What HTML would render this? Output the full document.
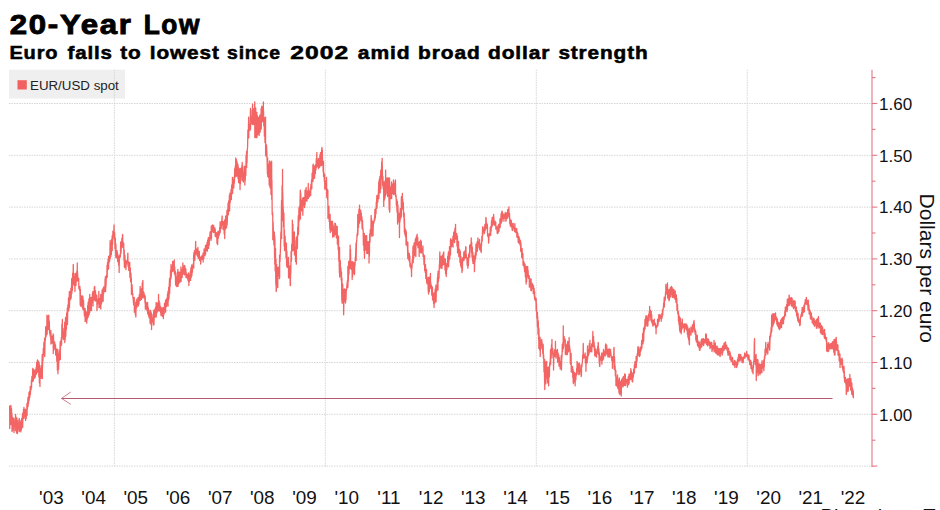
<!DOCTYPE html>
<html><head><meta charset="utf-8"><style>
html,body{margin:0;padding:0;background:#fff;width:940px;height:510px;overflow:hidden}
svg{display:block;font-family:"Liberation Sans",sans-serif}
</style></head><body>
<svg width="940" height="510" viewBox="0 0 940 510">
<g font-size="27.0" font-weight="bold" fill="#000" stroke="#000" stroke-width="0.9" letter-spacing="1.5"><text transform="translate(9.66,34.4) scale(1.155,1)">20-Year</text><text transform="translate(143.81,34.4) scale(0.976,1)">Low</text></g>
<g font-size="19.0" font-weight="bold" fill="#000" stroke="#000" stroke-width="0.55" letter-spacing="0.8"><text transform="translate(9.39,58.6) scale(1.055,1)">Euro</text><text transform="translate(67.49,58.6) scale(1.079,1)">falls</text><text transform="translate(120.17,58.6) scale(1.094,1)">to</text><text transform="translate(149.79,58.6) scale(1.094,1)">lowest</text><text transform="translate(227.04,58.6) scale(1.022,1)">since</text><text transform="translate(290.30,58.6) scale(1.297,1)">2002</text><text transform="translate(357.81,58.6) scale(1.108,1)">amid</text><text transform="translate(418.12,58.6) scale(1.101,1)">broad</text><text transform="translate(487.95,58.6) scale(1.104,1)">dollar</text><text transform="translate(558.38,58.6) scale(1.095,1)">strength</text></g>
<rect x="9" y="69.7" width="116" height="28.8" fill="#efefef"/>
<g stroke="#d6d6d6" stroke-width="1" stroke-dasharray="1.5,1"><line x1="9" y1="103.50" x2="872.0" y2="103.50"/><line x1="9" y1="155.30" x2="872.0" y2="155.30"/><line x1="9" y1="207.10" x2="872.0" y2="207.10"/><line x1="9" y1="258.90" x2="872.0" y2="258.90"/><line x1="9" y1="310.70" x2="872.0" y2="310.70"/><line x1="9" y1="362.50" x2="872.0" y2="362.50"/><line x1="9" y1="414.30" x2="872.0" y2="414.30"/><line x1="9" y1="466.10" x2="872.0" y2="466.10"/><line x1="114.38" y1="69.7" x2="114.38" y2="466.40"/><line x1="325.33" y1="69.7" x2="325.33" y2="466.40"/><line x1="536.28" y1="69.7" x2="536.28" y2="466.40"/><line x1="747.23" y1="69.7" x2="747.23" y2="466.40"/></g>
<rect x="17.5" y="80.2" width="9.3" height="9.3" fill="#f26161"/>
<text transform="translate(30,90.3) scale(1.025,1)" font-size="13" fill="#222">EUR/USD spot</text>
<g stroke="#e47684" stroke-width="1.1"><line x1="872.0" y1="69.7" x2="872.0" y2="466.90"/><line x1="872.0" y1="77.60" x2="875.5" y2="77.60"/><line x1="872.0" y1="103.50" x2="877.3" y2="103.50"/><line x1="872.0" y1="129.40" x2="875.5" y2="129.40"/><line x1="872.0" y1="155.30" x2="877.3" y2="155.30"/><line x1="872.0" y1="181.20" x2="875.5" y2="181.20"/><line x1="872.0" y1="207.10" x2="877.3" y2="207.10"/><line x1="872.0" y1="233.00" x2="875.5" y2="233.00"/><line x1="872.0" y1="258.90" x2="877.3" y2="258.90"/><line x1="872.0" y1="284.80" x2="875.5" y2="284.80"/><line x1="872.0" y1="310.70" x2="877.3" y2="310.70"/><line x1="872.0" y1="336.60" x2="875.5" y2="336.60"/><line x1="872.0" y1="362.50" x2="877.3" y2="362.50"/><line x1="872.0" y1="388.40" x2="875.5" y2="388.40"/><line x1="872.0" y1="414.30" x2="877.3" y2="414.30"/><line x1="872.0" y1="440.20" x2="875.5" y2="440.20"/><line x1="872.0" y1="466.10" x2="877.3" y2="466.10"/></g>
<g font-size="17" fill="#111"><text x="879" y="109.7">1.60</text><text x="879" y="161.5">1.50</text><text x="879" y="213.3">1.40</text><text x="879" y="265.1">1.30</text><text x="879" y="316.9">1.20</text><text x="879" y="368.7">1.10</text><text x="879" y="420.5">1.00</text></g>
<g font-size="17.5" fill="#111"><text transform="translate(51.4,503.9) scale(1.08,1)" text-anchor="middle">'03</text><text transform="translate(93.6,503.9) scale(1.08,1)" text-anchor="middle">'04</text><text transform="translate(135.8,503.9) scale(1.08,1)" text-anchor="middle">'05</text><text transform="translate(178.0,503.9) scale(1.08,1)" text-anchor="middle">'06</text><text transform="translate(220.2,503.9) scale(1.08,1)" text-anchor="middle">'07</text><text transform="translate(262.3,503.9) scale(1.08,1)" text-anchor="middle">'08</text><text transform="translate(304.5,503.9) scale(1.08,1)" text-anchor="middle">'09</text><text transform="translate(346.7,503.9) scale(1.08,1)" text-anchor="middle">'10</text><text transform="translate(388.9,503.9) scale(1.08,1)" text-anchor="middle">'11</text><text transform="translate(431.1,503.9) scale(1.08,1)" text-anchor="middle">'12</text><text transform="translate(473.3,503.9) scale(1.08,1)" text-anchor="middle">'13</text><text transform="translate(515.5,503.9) scale(1.08,1)" text-anchor="middle">'14</text><text transform="translate(557.7,503.9) scale(1.08,1)" text-anchor="middle">'15</text><text transform="translate(599.9,503.9) scale(1.08,1)" text-anchor="middle">'16</text><text transform="translate(642.1,503.9) scale(1.08,1)" text-anchor="middle">'17</text><text transform="translate(684.2,503.9) scale(1.08,1)" text-anchor="middle">'18</text><text transform="translate(726.4,503.9) scale(1.08,1)" text-anchor="middle">'19</text><text transform="translate(768.6,503.9) scale(1.08,1)" text-anchor="middle">'20</text><text transform="translate(810.8,503.9) scale(1.08,1)" text-anchor="middle">'21</text><text transform="translate(853.0,503.9) scale(1.08,1)" text-anchor="middle">'22</text></g>
<text transform="translate(919.8,193.6) rotate(90)" font-size="21" fill="#111">Dollars per euro</text>
<g fill="none"><line x1="61.5" y1="398.4" x2="832.5" y2="398.4" stroke="#b45c6e" stroke-width="1.05"/><polyline points="70.8,392 61.5,398.4 70.8,404.4" stroke="#c86a7c" stroke-width="0.85"/></g>
<polyline fill="none" stroke="#f36464" stroke-width="1.3" stroke-linejoin="round" points="9.65,405.5 9.70,413.8 9.75,428.5 10.00,415.6 10.30,415.3 10.60,423.9 10.90,408.1 10.95,405.5 11.05,424.5 11.20,416.0 11.50,408.3 11.80,421.2 11.95,413.5 12.05,431.5 12.10,422.2 12.40,427.4 12.70,417.4 13.00,430.2 13.30,418.2 13.60,429.0 13.90,422.0 13.95,418.5 14.05,432.5 14.20,428.0 14.50,426.2 14.80,424.4 15.10,421.2 15.40,421.2 15.55,414.5 15.65,430.5 15.70,415.9 16.00,430.7 16.30,421.9 16.60,433.0 16.90,417.9 17.20,429.5 17.35,420.5 17.45,433.5 17.50,423.5 17.80,425.9 18.10,424.5 18.40,428.9 18.70,422.8 18.95,419.5 19.00,430.6 19.05,431.5 19.30,418.5 19.60,430.9 19.90,424.3 20.20,430.6 20.50,421.9 20.80,431.9 20.95,420.5 21.05,430.5 21.10,425.2 21.40,429.8 21.70,418.4 22.00,421.9 22.30,418.4 22.55,413.5 22.60,420.4 22.65,427.5 22.90,417.0 23.20,418.1 23.50,409.1 23.80,416.5 23.95,407.5 24.05,418.5 24.10,410.5 24.40,413.3 24.70,410.4 25.00,416.4 25.30,409.1 25.55,410.5 25.60,418.9 25.65,420.5 25.90,410.2 26.20,418.4 26.50,411.5 26.80,414.3 26.95,403.5 27.05,415.5 27.10,410.0 27.40,408.5 27.70,402.5 27.95,397.5 28.00,403.4 28.05,406.5 28.30,399.3 28.60,403.2 28.90,394.5 28.95,392.5 29.05,400.5 29.20,399.4 29.50,391.5 29.80,397.5 30.10,392.3 30.25,386.5 30.35,394.5 30.40,393.9 30.70,387.3 31.00,389.9 31.30,385.3 31.45,380.5 31.55,387.5 31.60,384.3 31.90,376.4 32.20,379.1 32.50,378.0 32.75,368.5 32.80,374.3 32.85,381.5 33.10,372.5 33.40,380.4 33.70,369.3 34.00,373.6 34.30,372.1 34.60,378.2 34.90,374.0 35.15,370.1 35.20,374.6 35.25,377.0 35.50,371.0 35.80,374.6 36.10,367.7 36.40,374.0 36.70,362.4 37.00,367.3 37.30,363.5 37.45,359.9 37.55,372.2 37.60,369.1 37.90,362.7 38.20,369.8 38.50,361.2 38.80,376.8 39.10,362.7 39.40,383.1 39.70,377.0 39.85,365.5 39.95,386.4 40.00,378.0 40.30,368.5 40.60,377.7 40.90,372.6 41.20,378.2 41.50,365.9 41.80,370.8 42.10,359.7 42.25,354.5 42.35,378.5 42.40,370.6 42.70,362.2 43.00,359.6 43.30,348.4 43.60,354.4 43.90,342.1 44.20,351.8 44.50,348.0 44.55,338.5 44.65,356.5 44.80,354.3 45.10,337.6 45.40,340.2 45.70,326.7 46.00,336.9 46.30,330.9 46.60,332.8 46.90,324.4 46.95,315.2 47.05,334.5 47.20,332.3 47.50,316.3 47.80,329.3 48.10,315.9 48.40,328.2 48.70,323.7 48.75,315.2 48.85,329.5 49.00,326.4 49.30,321.0 49.60,333.6 49.90,331.3 50.20,336.1 50.50,335.8 50.80,339.6 50.85,330.5 50.95,344.0 51.10,334.7 51.40,338.0 51.70,338.5 52.00,343.2 52.30,336.4 52.60,341.5 52.90,337.5 53.15,334.0 53.20,342.6 53.25,353.5 53.50,334.9 53.80,350.1 54.10,342.6 54.40,345.7 54.70,342.0 55.00,348.7 55.30,347.9 55.55,345.0 55.60,350.9 55.65,355.0 55.90,349.8 56.20,351.7 56.50,349.1 56.80,361.3 57.10,349.3 57.40,370.3 57.70,351.1 57.85,349.5 57.95,373.8 58.00,359.9 58.30,359.9 58.60,369.2 58.90,353.7 59.20,360.6 59.50,351.0 59.80,355.1 60.10,344.8 60.25,341.5 60.35,359.5 60.40,347.9 60.70,341.8 61.00,345.7 61.30,337.6 61.60,344.9 61.90,324.2 62.20,335.8 62.35,319.5 62.45,337.5 62.50,327.8 62.80,329.4 63.10,328.4 63.40,339.5 63.70,331.8 64.00,331.7 64.30,332.4 64.60,336.5 64.65,322.5 64.75,342.5 64.90,332.4 65.20,339.9 65.50,317.4 65.80,336.2 66.10,317.1 66.40,329.5 66.70,313.0 67.00,321.9 67.30,308.2 67.35,308.5 67.45,324.5 67.60,317.5 67.90,304.8 68.20,311.4 68.50,298.0 68.80,310.4 69.10,303.1 69.35,291.3 69.40,302.7 69.45,307.5 69.70,297.5 70.00,298.0 70.30,291.9 70.60,299.7 70.90,288.2 71.20,297.9 71.50,287.3 71.75,278.5 71.80,284.7 71.85,293.5 72.10,283.9 72.40,290.4 72.70,272.9 73.00,283.2 73.25,264.5 73.30,264.7 73.35,284.0 73.60,278.5 73.90,277.0 74.20,285.6 74.50,281.0 74.80,282.7 74.85,274.0 74.95,291.5 75.10,273.3 75.40,281.3 75.70,279.7 76.00,285.4 76.30,273.2 76.60,277.3 76.90,270.9 77.20,281.1 77.25,263.0 77.35,280.5 77.50,271.3 77.80,277.8 78.10,277.9 78.40,280.6 78.70,278.7 78.75,278.5 78.85,288.5 79.00,286.2 79.30,288.3 79.60,290.1 79.90,286.4 80.20,304.8 80.35,289.5 80.45,306.0 80.50,295.9 80.80,305.5 81.10,296.3 81.40,298.7 81.70,295.8 82.00,306.9 82.30,298.0 82.60,304.0 82.65,296.0 82.75,309.1 82.90,296.7 83.20,309.4 83.50,300.1 83.80,309.9 84.10,309.8 84.40,315.6 84.70,308.6 85.00,317.2 85.05,308.5 85.15,321.5 85.30,309.8 85.60,321.2 85.90,312.3 86.20,320.3 86.50,311.9 86.65,313.2 86.75,323.2 86.80,318.3 87.10,313.8 87.40,318.9 87.70,305.4 88.00,311.5 88.15,302.3 88.25,317.0 88.30,301.9 88.60,315.7 88.90,299.0 89.20,314.4 89.50,305.4 89.75,294.5 89.80,310.2 89.85,312.2 90.10,297.3 90.40,303.6 90.70,301.5 91.00,310.3 91.30,300.2 91.35,297.5 91.45,310.5 91.60,302.9 91.90,297.9 92.20,302.5 92.50,292.9 92.80,300.4 92.95,291.3 93.05,306.0 93.10,297.7 93.40,297.5 93.70,294.9 94.00,300.1 94.30,287.2 94.60,296.6 94.75,286.5 94.85,299.5 94.90,292.8 95.20,301.1 95.50,290.9 95.80,300.8 96.10,298.5 96.40,300.2 96.70,295.1 96.85,296.0 96.95,310.5 97.00,309.7 97.30,302.1 97.60,303.9 97.90,300.1 98.20,299.0 98.50,301.3 98.80,299.5 98.85,291.3 98.95,307.5 99.10,299.0 99.40,304.9 99.70,298.3 100.00,307.7 100.30,300.4 100.60,302.3 100.75,294.5 100.85,309.1 100.90,300.3 101.20,304.5 101.50,295.1 101.80,302.8 102.10,289.9 102.40,296.8 102.70,293.1 103.00,299.3 103.05,288.1 103.15,301.3 103.30,291.1 103.60,293.6 103.90,286.7 104.20,289.8 104.50,289.3 104.80,291.7 105.10,278.6 105.40,285.2 105.45,276.5 105.55,291.5 105.70,284.1 106.00,286.9 106.30,276.6 106.60,275.5 106.90,273.8 107.05,265.5 107.15,277.5 107.20,277.1 107.50,262.6 107.80,265.9 108.10,259.2 108.40,269.3 108.55,256.5 108.65,268.3 108.70,259.3 109.00,262.9 109.30,255.9 109.60,261.4 109.90,252.9 110.15,240.5 110.20,257.1 110.25,258.5 110.50,247.8 110.80,256.6 111.10,242.5 111.40,254.6 111.70,239.1 112.00,249.3 112.15,235.9 112.25,250.5 112.30,241.4 112.60,244.6 112.90,231.1 113.20,235.4 113.50,235.7 113.80,232.5 114.05,224.9 114.10,225.9 114.15,238.0 114.40,239.1 114.70,232.7 115.00,248.7 115.30,237.9 115.60,252.2 115.65,243.5 115.75,256.9 115.90,244.4 116.20,257.9 116.50,253.4 116.80,257.1 117.10,250.6 117.40,257.7 117.55,253.1 117.65,261.5 117.70,253.9 118.00,261.6 118.30,255.8 118.60,265.1 118.90,261.3 119.05,256.3 119.15,272.5 119.20,266.7 119.50,255.6 119.80,257.6 120.10,254.4 120.40,256.8 120.65,242.2 120.70,242.0 120.75,253.5 121.00,252.9 121.30,247.0 121.60,243.8 121.90,238.2 122.20,241.4 122.50,235.7 122.65,234.3 122.75,247.5 122.80,245.1 123.10,241.9 123.40,247.6 123.70,243.2 124.00,260.6 124.25,250.0 124.30,255.5 124.35,266.3 124.60,267.5 124.90,255.1 125.20,265.4 125.50,263.8 125.80,265.3 125.85,261.0 125.95,269.5 126.10,264.6 126.40,264.2 126.70,261.8 127.00,261.6 127.30,259.6 127.60,260.7 127.85,253.1 127.90,254.4 127.95,264.7 128.20,266.5 128.50,261.7 128.80,270.4 129.10,266.7 129.40,269.9 129.70,264.1 129.75,262.5 129.85,277.2 130.00,270.8 130.30,267.8 130.60,281.6 130.90,273.0 131.20,282.8 131.35,278.2 131.45,294.5 131.50,284.1 131.80,289.2 132.10,284.7 132.40,293.1 132.70,293.2 133.00,298.6 133.30,299.7 133.60,304.6 133.90,297.9 134.20,305.7 134.25,297.5 134.35,312.2 134.50,305.5 134.80,311.6 135.10,305.7 135.40,314.9 135.70,306.4 135.75,302.3 135.85,317.0 136.00,309.6 136.30,300.6 136.60,308.0 136.90,298.9 137.20,304.0 137.50,301.2 137.80,306.2 138.10,301.3 138.15,297.5 138.25,306.0 138.40,303.0 138.70,298.8 139.00,304.0 139.30,294.7 139.60,298.0 139.90,295.2 140.15,286.5 140.20,300.4 140.25,299.5 140.50,288.9 140.80,294.2 141.10,288.8 141.40,299.4 141.70,288.3 142.00,297.4 142.30,282.6 142.60,289.1 142.85,280.3 142.90,281.4 142.95,298.1 143.20,295.4 143.50,291.6 143.80,295.6 144.10,292.8 144.40,297.8 144.70,295.5 145.00,303.0 145.25,296.0 145.30,302.4 145.35,309.1 145.60,304.7 145.90,302.2 146.20,308.6 146.50,303.0 146.80,310.0 147.10,306.1 147.40,311.4 147.55,302.3 147.65,313.8 147.70,305.3 148.00,310.2 148.30,307.7 148.60,316.0 148.90,312.6 149.20,317.9 149.50,315.0 149.80,316.4 149.95,310.1 150.05,323.2 150.10,313.3 150.40,319.1 150.70,310.6 151.00,324.5 151.30,321.0 151.45,313.2 151.55,329.5 151.60,324.1 151.90,317.6 152.20,322.1 152.50,318.0 152.80,321.9 153.10,314.3 153.40,325.1 153.70,312.1 153.85,310.1 153.95,324.8 154.00,322.7 154.30,311.9 154.60,313.4 154.90,309.1 155.20,317.0 155.50,307.2 155.80,313.6 156.10,311.2 156.15,302.3 156.25,317.0 156.40,308.4 156.70,303.3 157.00,312.9 157.30,306.6 157.60,308.6 157.90,302.6 158.20,311.0 158.50,302.5 158.55,294.5 158.65,309.1 158.80,307.8 159.10,300.6 159.40,310.8 159.70,302.8 160.00,307.6 160.30,308.7 160.60,312.6 160.85,307.0 160.90,310.8 160.95,315.5 161.20,314.1 161.50,308.6 161.80,314.1 162.10,307.9 162.40,316.4 162.70,312.0 163.00,313.7 163.25,308.5 163.30,307.6 163.35,318.5 163.60,313.3 163.90,311.5 164.20,313.8 164.50,303.5 164.80,310.1 165.10,303.0 165.40,308.6 165.55,300.5 165.65,312.2 165.70,302.1 166.00,306.8 166.30,298.9 166.60,306.5 166.90,299.2 167.20,303.2 167.50,293.9 167.80,298.0 167.95,291.3 168.05,306.0 168.10,292.2 168.40,301.0 168.70,287.1 169.00,298.8 169.30,284.1 169.55,278.5 169.60,286.6 169.65,293.5 169.90,281.7 170.20,286.4 170.50,270.1 170.80,278.9 171.05,264.5 171.10,270.4 171.15,277.5 171.40,273.3 171.70,270.1 172.00,269.9 172.30,265.9 172.60,267.3 172.65,261.5 172.75,271.5 172.90,265.8 173.20,270.5 173.50,261.6 173.80,270.0 174.10,263.3 174.25,259.9 174.35,273.0 174.40,273.8 174.70,267.0 175.00,275.0 175.30,271.2 175.60,284.2 175.75,277.2 175.85,285.5 175.90,276.7 176.20,284.7 176.50,281.1 176.80,286.6 177.10,272.8 177.40,285.1 177.70,273.9 177.85,269.3 177.95,285.5 178.00,286.5 178.30,273.5 178.60,284.1 178.90,272.2 179.20,277.8 179.50,272.2 179.75,272.5 179.80,279.1 179.85,282.5 180.10,273.2 180.40,279.6 180.70,274.9 180.95,267.0 181.00,281.1 181.05,281.5 181.30,274.2 181.60,271.8 181.90,270.0 182.20,277.5 182.50,268.2 182.80,270.6 182.85,263.0 182.95,273.8 183.10,268.2 183.40,274.0 183.70,270.6 184.00,269.8 184.30,265.3 184.60,274.9 184.90,265.9 185.20,272.1 185.50,273.1 185.80,272.0 185.85,268.9 185.95,277.5 186.10,272.2 186.40,275.6 186.70,274.0 187.00,277.7 187.30,277.4 187.60,279.0 187.90,274.2 188.20,281.2 188.50,273.0 188.75,274.8 188.80,281.0 188.85,285.5 189.10,278.1 189.40,281.5 189.70,277.4 190.00,276.9 190.30,271.3 190.60,280.4 190.90,267.7 191.20,277.6 191.50,267.1 191.75,265.0 191.80,273.5 191.85,275.8 192.10,269.8 192.40,272.3 192.70,266.8 193.00,266.1 193.30,263.6 193.60,265.9 193.65,255.2 193.75,267.9 193.90,252.6 194.20,258.6 194.50,250.7 194.80,260.4 195.10,251.6 195.40,251.3 195.65,241.5 195.70,242.1 195.75,254.2 196.00,253.4 196.30,249.8 196.60,254.1 196.90,248.9 197.20,255.8 197.50,250.8 197.80,256.5 197.95,247.4 198.05,256.2 198.10,250.0 198.40,258.5 198.70,252.3 199.00,255.1 199.30,251.5 199.60,260.6 199.90,257.8 200.20,260.6 200.50,257.3 200.55,257.2 200.65,264.0 200.80,261.5 201.10,257.8 201.40,259.5 201.70,255.9 202.00,259.4 202.30,257.3 202.60,258.8 202.90,254.8 203.05,253.2 203.15,262.0 203.20,258.0 203.50,255.4 203.80,258.4 204.10,248.9 204.40,252.5 204.70,251.6 205.00,255.7 205.30,249.8 205.45,245.5 205.55,254.2 205.60,253.4 205.90,246.4 206.20,248.0 206.50,244.7 206.80,250.7 207.10,242.1 207.40,251.0 207.70,239.8 208.00,248.3 208.30,237.9 208.35,237.5 208.45,248.3 208.60,248.4 208.90,238.1 209.20,245.2 209.50,238.2 209.80,237.1 210.10,231.9 210.40,238.0 210.70,231.7 211.00,240.4 211.30,226.0 211.35,225.8 211.45,238.5 211.60,231.4 211.90,228.4 212.20,231.1 212.50,225.0 212.80,231.5 213.10,229.7 213.25,225.8 213.35,232.5 213.40,229.2 213.70,225.3 214.00,232.3 214.30,228.4 214.60,232.1 214.90,227.9 215.20,236.1 215.25,229.5 215.35,236.5 215.50,233.4 215.80,236.6 216.10,232.6 216.40,234.9 216.70,232.9 217.00,243.4 217.30,234.8 217.55,233.5 217.60,244.5 217.65,244.5 217.90,231.5 218.20,238.4 218.50,235.9 218.80,235.6 219.10,230.7 219.40,234.9 219.70,227.4 220.00,228.8 220.15,221.9 220.25,232.5 220.30,224.9 220.60,226.1 220.90,222.7 221.20,228.5 221.50,221.0 221.80,224.2 222.10,216.1 222.15,216.0 222.25,224.8 222.40,222.7 222.70,222.0 223.00,229.3 223.30,221.6 223.60,226.3 223.90,221.7 224.20,233.9 224.50,222.8 224.65,219.9 224.75,238.5 224.80,232.4 225.10,225.4 225.40,229.1 225.70,215.8 226.00,223.0 226.30,222.4 226.60,227.9 226.90,212.3 227.05,210.1 227.15,224.8 227.20,223.7 227.50,215.2 227.80,212.3 228.10,202.9 228.40,214.8 228.70,200.7 229.00,209.7 229.30,204.9 229.35,195.5 229.45,211.1 229.60,210.5 229.90,193.2 230.20,202.5 230.50,193.6 230.80,196.2 231.10,189.2 231.40,199.5 231.70,184.8 232.00,186.7 232.30,185.7 232.45,177.5 232.55,193.5 232.60,193.0 232.90,183.0 233.20,187.6 233.50,179.4 233.80,188.0 234.10,177.1 234.40,183.1 234.70,168.7 235.00,173.8 235.30,166.0 235.60,176.8 235.75,158.0 235.85,176.5 235.90,158.7 236.20,174.7 236.50,159.4 236.80,176.2 237.10,162.0 237.40,174.3 237.70,166.0 237.95,164.5 238.00,174.0 238.05,178.5 238.30,166.8 238.60,182.7 238.90,168.9 239.20,177.0 239.50,169.6 239.80,184.1 239.95,168.5 240.05,189.5 240.10,177.6 240.40,183.6 240.70,177.4 241.00,174.6 241.30,167.9 241.60,175.0 241.90,165.5 242.20,180.5 242.25,162.5 242.35,180.5 242.50,166.9 242.80,175.2 243.10,174.2 243.40,182.0 243.70,172.4 244.00,178.9 244.30,166.1 244.60,173.7 244.75,166.5 244.85,185.1 244.90,173.2 245.20,180.9 245.50,170.3 245.80,175.4 246.10,155.4 246.40,167.0 246.55,151.5 246.65,167.5 246.70,159.1 247.00,162.7 247.30,149.8 247.60,146.9 247.90,129.8 248.20,138.5 248.50,125.3 248.65,117.1 248.75,137.5 248.80,130.5 249.10,124.1 249.40,126.1 249.70,124.8 250.00,130.5 250.30,119.4 250.45,108.5 250.55,129.0 250.60,124.4 250.90,117.2 251.20,116.5 251.50,118.8 251.80,123.8 252.10,110.1 252.40,113.2 252.55,104.1 252.65,124.5 252.70,116.1 253.00,122.4 253.30,117.8 253.60,124.4 253.90,108.7 254.20,119.8 254.50,111.2 254.75,102.0 254.80,128.6 254.85,137.5 255.10,110.7 255.40,129.7 255.70,108.0 256.00,137.6 256.30,122.0 256.60,128.9 256.85,112.5 256.90,122.3 256.95,137.5 257.20,125.7 257.50,116.0 257.80,134.5 258.10,117.7 258.40,133.2 258.70,125.1 259.00,132.1 259.05,117.1 259.15,135.5 259.30,119.1 259.60,127.0 259.90,115.0 260.20,132.0 260.50,119.4 260.80,121.2 261.10,111.7 261.15,108.5 261.25,129.0 261.40,120.8 261.70,106.2 262.00,121.8 262.30,111.6 262.60,121.6 262.90,106.7 263.20,114.8 263.35,102.0 263.45,120.5 263.50,109.2 263.80,125.8 264.10,117.1 264.40,136.0 264.70,128.5 265.00,142.6 265.30,119.5 265.55,117.1 265.60,151.3 265.65,154.9 265.90,144.0 266.20,156.4 266.50,145.0 266.80,151.1 267.10,160.2 267.40,174.1 267.65,158.0 267.70,163.3 267.75,176.5 268.00,171.4 268.30,167.5 268.60,177.4 268.90,164.0 269.20,185.1 269.50,160.9 269.80,179.2 269.85,162.5 269.95,187.3 270.10,162.4 270.40,188.2 270.70,167.4 271.00,194.6 271.30,161.1 271.60,178.0 271.65,161.5 271.75,199.5 271.90,180.0 272.20,214.4 272.50,212.4 272.75,216.2 272.80,239.7 272.85,238.5 273.10,221.8 273.40,232.4 273.70,239.1 274.00,245.0 274.30,231.8 274.60,258.2 274.65,235.5 274.75,264.2 274.90,238.1 275.20,271.0 275.50,248.3 275.80,284.4 276.05,259.3 276.10,271.2 276.15,291.5 276.40,290.1 276.70,264.4 277.00,275.9 277.30,270.3 277.60,284.7 277.65,269.1 277.75,287.5 277.90,267.5 278.20,275.7 278.50,271.3 278.80,275.6 279.10,266.7 279.40,278.7 279.55,255.5 279.65,277.9 279.70,255.5 280.00,261.5 280.30,252.4 280.60,243.4 280.90,232.0 281.20,236.0 281.50,202.3 281.55,200.5 281.65,238.5 281.80,213.0 282.10,185.6 282.40,220.4 282.55,169.5 282.65,219.1 282.70,192.5 283.00,204.5 283.30,210.0 283.60,226.9 283.90,213.0 284.20,246.3 284.45,229.9 284.50,240.5 284.55,250.5 284.80,240.2 285.10,236.1 285.40,245.9 285.70,242.4 286.00,257.7 286.30,247.9 286.45,243.5 286.55,264.2 286.60,266.1 286.90,251.2 287.20,267.5 287.50,259.1 287.80,267.4 288.10,265.4 288.40,266.1 288.45,257.5 288.55,277.9 288.70,261.7 289.00,277.5 289.30,273.1 289.60,277.3 289.90,265.9 290.20,285.5 290.35,269.1 290.45,285.5 290.50,277.1 290.80,272.2 291.10,251.4 291.40,261.3 291.70,244.4 292.00,250.9 292.30,239.7 292.35,220.1 292.45,250.5 292.60,233.9 292.90,224.1 293.20,250.7 293.50,232.3 293.80,240.8 294.10,238.7 294.35,231.9 294.40,244.8 294.45,254.5 294.70,240.4 295.00,255.5 295.30,246.6 295.60,261.7 295.90,246.9 296.20,261.6 296.25,237.5 296.35,264.2 296.50,242.1 296.80,242.2 297.10,236.1 297.40,248.5 297.70,227.4 298.00,231.6 298.25,216.2 298.30,215.6 298.35,234.8 298.60,230.4 298.90,207.7 299.20,221.1 299.50,206.2 299.80,216.2 300.10,197.9 300.35,190.1 300.40,207.9 300.45,219.1 300.70,192.9 301.00,203.8 301.30,207.4 301.60,210.8 301.90,200.5 302.20,205.7 302.50,199.4 302.75,198.0 302.80,207.0 302.85,215.2 303.10,199.0 303.40,205.5 303.70,197.4 304.00,204.3 304.30,201.5 304.60,207.6 304.90,197.8 305.05,190.1 305.15,204.5 305.20,200.1 305.50,191.9 305.80,200.9 306.10,187.5 306.40,200.7 306.70,192.0 307.00,201.2 307.30,191.3 307.60,191.0 307.90,193.3 308.20,190.6 308.25,183.5 308.35,198.5 308.50,190.7 308.80,197.4 309.10,192.3 309.40,196.6 309.70,191.4 310.00,190.8 310.30,189.7 310.55,187.0 310.60,193.3 310.65,195.5 310.90,184.4 311.20,189.2 311.50,179.9 311.80,188.6 312.10,173.2 312.40,178.0 312.70,176.4 312.95,165.0 313.00,181.0 313.05,181.3 313.30,164.1 313.60,178.6 313.90,165.9 314.20,178.3 314.45,166.5 314.50,170.2 314.55,178.1 314.80,174.3 315.10,165.6 315.40,173.4 315.70,164.5 316.00,169.7 316.30,158.6 316.60,165.1 316.85,152.5 316.90,160.5 316.95,167.1 317.20,166.2 317.50,160.1 317.80,166.5 318.10,163.1 318.40,166.7 318.45,158.5 318.55,168.5 318.70,160.6 319.00,162.2 319.30,160.6 319.60,167.3 319.90,155.0 320.20,158.8 320.35,154.0 320.45,165.5 320.50,152.5 320.80,163.7 321.10,159.2 321.40,165.7 321.70,149.2 321.95,147.5 322.00,162.9 322.05,164.0 322.30,150.0 322.60,165.1 322.90,161.1 323.20,171.9 323.45,161.5 323.50,161.3 323.55,176.5 323.80,172.4 324.10,175.1 324.40,181.4 324.65,174.5 324.70,174.6 324.75,189.1 325.00,185.5 325.30,180.8 325.60,188.0 325.90,184.6 326.20,189.8 326.50,181.8 326.55,177.5 326.65,193.8 326.80,197.4 327.10,189.0 327.40,198.1 327.70,199.6 327.85,190.1 327.95,218.3 328.00,215.5 328.30,210.3 328.60,212.0 328.90,206.1 329.20,221.4 329.50,216.9 329.80,229.0 330.10,220.2 330.15,214.5 330.25,232.5 330.40,225.4 330.70,220.9 331.00,225.0 331.30,221.9 331.60,231.1 331.90,221.4 332.20,227.4 332.50,223.4 332.55,221.5 332.65,237.1 332.80,230.8 333.10,224.9 333.40,228.3 333.70,230.4 334.00,236.8 334.30,230.8 334.60,231.3 334.90,223.2 334.95,224.0 335.05,234.8 335.20,232.7 335.50,223.7 335.80,234.2 336.10,225.8 336.40,237.9 336.70,227.9 337.00,237.3 337.25,226.5 337.30,235.2 337.35,244.2 337.60,237.5 337.90,235.3 338.20,249.8 338.50,236.3 338.80,260.7 339.10,258.7 339.40,273.3 339.55,247.5 339.65,277.1 339.70,264.2 340.00,270.4 340.30,260.6 340.60,275.1 340.90,267.9 341.20,280.1 341.50,271.8 341.80,300.2 341.95,278.1 342.05,303.0 342.10,289.9 342.40,299.8 342.70,284.2 343.00,303.1 343.30,291.0 343.55,289.5 343.60,306.9 343.65,314.8 343.90,299.8 344.20,299.9 344.50,289.0 344.80,301.4 345.10,299.2 345.40,300.3 345.45,289.5 345.55,303.0 345.70,294.0 346.00,299.8 346.30,290.1 346.60,290.1 346.90,285.4 347.20,282.8 347.50,280.3 347.80,287.7 347.85,266.5 347.95,286.5 348.10,273.1 348.40,280.9 348.70,261.5 349.00,274.1 349.30,260.7 349.60,264.6 349.90,260.4 350.15,245.2 350.20,268.6 350.25,267.5 350.50,249.3 350.80,267.5 351.10,262.8 351.40,269.1 351.70,263.4 352.00,270.7 352.05,261.5 352.15,279.5 352.30,268.3 352.60,276.4 352.90,262.0 353.20,273.7 353.50,270.2 353.80,271.8 354.10,262.7 354.40,272.5 354.45,264.0 354.55,274.5 354.70,263.3 355.00,266.1 355.30,258.0 355.60,255.9 355.90,248.2 356.05,242.9 356.15,260.5 356.20,255.3 356.50,242.6 356.80,239.9 357.10,234.1 357.40,235.9 357.70,226.0 357.75,214.5 357.85,234.8 358.00,228.2 358.30,223.5 358.60,227.2 358.90,209.2 359.20,216.5 359.50,208.1 359.55,205.2 359.65,223.0 359.80,214.6 360.10,213.3 360.40,220.3 360.70,210.2 361.00,219.3 361.30,212.9 361.60,219.8 361.90,222.3 361.95,217.0 362.05,227.5 362.20,228.8 362.50,220.4 362.80,229.6 363.10,228.9 363.40,245.2 363.70,234.3 364.00,250.8 364.30,238.1 364.35,233.5 364.45,258.3 364.60,248.9 364.90,246.9 365.20,245.9 365.50,235.6 365.80,250.1 366.10,240.4 366.40,242.8 366.65,235.8 366.70,235.6 366.75,253.5 367.00,249.7 367.30,247.8 367.60,253.4 367.90,241.6 368.20,253.7 368.50,244.3 368.80,251.0 368.95,242.9 369.05,263.0 369.10,241.5 369.40,256.3 369.70,234.0 370.00,241.9 370.30,229.3 370.60,231.7 370.90,229.6 371.15,215.5 371.20,223.7 371.25,234.5 371.50,218.4 371.80,236.3 372.10,221.7 372.40,226.0 372.70,227.3 372.85,221.1 372.95,235.8 373.00,235.7 373.30,224.4 373.60,222.8 373.90,222.8 374.20,220.6 374.50,217.7 374.80,215.3 374.85,209.3 374.95,220.1 375.10,209.5 375.40,217.6 375.70,208.7 376.00,213.7 376.30,201.8 376.60,202.3 376.85,195.5 376.90,199.4 376.95,208.3 377.20,203.0 377.50,199.3 377.80,202.0 378.10,196.3 378.40,191.8 378.70,185.5 378.75,181.9 378.85,198.5 379.00,195.0 379.30,179.1 379.60,184.9 379.90,176.4 380.20,192.8 380.50,181.7 380.75,170.1 380.80,182.4 380.85,188.7 381.10,174.8 381.40,175.6 381.70,161.8 382.00,178.8 382.15,158.3 382.25,177.0 382.30,165.3 382.60,185.5 382.90,176.5 383.20,187.9 383.50,189.9 383.65,185.8 383.75,206.4 383.80,198.5 384.10,182.0 384.40,200.1 384.70,190.2 385.00,198.1 385.30,180.3 385.60,195.6 385.65,170.1 385.75,194.5 385.90,184.5 386.20,193.7 386.50,178.2 386.80,189.2 387.10,184.4 387.40,185.4 387.55,178.0 387.65,196.5 387.70,186.4 388.00,195.9 388.30,177.9 388.60,193.4 388.90,195.0 389.20,210.0 389.50,193.4 389.55,178.0 389.65,212.2 389.80,208.4 390.10,186.6 390.40,198.7 390.70,188.8 391.00,189.4 391.30,189.0 391.55,181.9 391.60,195.3 391.65,198.5 391.90,188.4 392.20,193.3 392.50,184.2 392.80,193.3 393.10,184.2 393.40,193.1 393.45,179.9 393.55,194.5 393.70,181.1 394.00,194.7 394.30,183.4 394.60,193.7 394.90,187.9 395.20,187.9 395.45,179.9 395.50,182.6 395.55,196.5 395.80,194.5 396.10,196.4 396.40,205.5 396.70,199.1 397.00,212.1 397.30,207.6 397.45,201.5 397.55,224.0 397.60,211.5 397.90,204.8 398.20,215.4 398.50,216.8 398.80,222.0 399.10,220.2 399.35,213.2 399.40,224.8 399.45,237.5 399.70,214.6 400.00,221.7 400.30,208.7 400.60,218.8 400.90,209.4 401.20,217.0 401.35,197.5 401.45,216.2 401.50,196.6 401.80,205.0 402.10,202.4 402.35,193.5 402.40,202.7 402.45,208.3 402.70,198.8 403.00,209.7 403.30,202.5 403.60,216.6 403.90,214.8 404.20,224.1 404.25,213.2 404.35,231.9 404.50,219.5 404.80,234.3 405.10,228.4 405.40,236.5 405.70,234.0 405.95,230.3 406.00,242.5 406.05,245.0 406.30,231.8 406.60,244.8 406.90,241.4 407.20,244.7 407.50,248.2 407.80,258.4 407.85,242.1 407.95,258.5 408.10,250.7 408.40,259.0 408.70,253.3 409.00,260.6 409.30,253.3 409.60,262.5 409.85,255.8 409.90,258.7 409.95,266.5 410.20,264.1 410.50,263.3 410.80,267.9 411.10,264.9 411.40,271.7 411.45,265.5 411.55,276.5 411.70,264.9 412.00,268.1 412.30,259.5 412.60,262.9 412.90,248.3 413.15,246.0 413.20,258.1 413.25,262.5 413.50,246.3 413.80,257.9 414.10,242.8 414.40,253.2 414.70,251.0 415.00,255.3 415.30,239.6 415.60,250.5 415.75,238.1 415.85,256.5 415.90,238.1 416.20,244.2 416.50,236.0 416.80,245.1 417.10,236.8 417.15,234.2 417.25,243.0 417.40,244.9 417.70,237.4 418.00,247.7 418.30,243.7 418.60,245.1 418.90,243.5 419.05,242.1 419.15,256.5 419.20,249.6 419.50,241.7 419.80,250.5 420.10,243.7 420.40,252.1 420.65,240.1 420.70,246.3 420.75,252.8 421.00,247.9 421.30,241.5 421.60,253.0 421.90,248.8 422.20,248.3 422.50,248.4 422.80,250.5 422.95,246.0 423.05,256.5 423.10,253.2 423.40,255.0 423.70,254.8 424.00,264.5 424.30,256.3 424.55,255.8 424.60,265.3 424.65,270.5 424.90,266.0 425.20,272.3 425.50,264.6 425.80,278.6 426.10,271.4 426.40,278.2 426.55,269.5 426.65,282.2 426.70,276.0 427.00,283.7 427.30,277.8 427.60,282.7 427.90,278.7 428.20,291.3 428.45,277.5 428.50,280.8 428.55,294.0 428.80,286.0 429.10,277.1 429.40,291.7 429.70,278.8 430.00,288.4 430.30,281.0 430.45,273.5 430.55,288.1 430.60,281.6 430.90,284.5 431.20,285.2 431.50,285.4 431.80,295.3 432.10,290.9 432.40,293.9 432.45,287.2 432.55,299.9 432.70,293.6 433.00,297.1 433.30,297.1 433.60,303.8 433.90,298.2 433.95,293.0 434.05,307.5 434.20,302.9 434.50,293.3 434.80,303.0 435.10,289.1 435.40,299.4 435.70,289.3 435.95,285.2 436.00,298.3 436.05,301.9 436.30,291.9 436.60,291.6 436.90,286.2 437.20,284.4 437.50,277.2 437.80,286.2 437.85,273.5 437.95,290.1 438.10,271.1 438.40,281.5 438.70,274.5 439.00,278.5 439.30,265.8 439.60,263.1 439.85,251.9 439.90,256.5 439.95,268.5 440.20,260.9 440.50,256.5 440.80,266.1 441.10,258.1 441.40,267.9 441.70,257.0 441.85,255.8 441.95,268.5 442.00,266.8 442.30,262.7 442.60,265.3 442.90,254.5 443.20,258.5 443.50,252.5 443.75,251.9 443.80,257.0 443.85,264.5 444.10,259.9 444.40,262.8 444.70,258.9 445.00,269.9 445.30,258.8 445.60,273.8 445.90,264.0 446.15,263.5 446.20,273.9 446.25,276.4 446.50,269.4 446.80,270.0 447.10,267.3 447.40,265.4 447.70,256.1 448.00,264.4 448.30,253.2 448.45,251.9 448.55,266.5 448.60,266.8 448.90,258.0 449.20,260.2 449.50,246.7 449.80,259.1 450.10,247.9 450.40,251.9 450.45,240.1 450.55,254.8 450.70,238.6 451.00,247.5 451.30,240.0 451.60,245.4 451.90,241.0 452.20,246.1 452.50,239.6 452.80,243.4 452.95,236.2 453.05,247.0 453.10,242.5 453.40,240.4 453.70,232.3 454.00,240.8 454.30,231.2 454.60,242.5 454.90,228.2 455.20,239.1 455.50,233.5 455.55,224.5 455.65,239.1 455.80,234.1 456.10,235.4 456.40,238.6 456.70,233.5 457.00,246.1 457.30,238.7 457.45,236.2 457.55,252.8 457.60,251.2 457.90,241.9 458.20,248.6 458.50,241.4 458.80,256.5 459.10,248.8 459.40,255.3 459.70,253.5 459.85,249.9 459.95,262.5 460.00,257.7 460.30,251.5 460.60,265.6 460.90,256.3 461.20,267.7 461.50,263.3 461.80,264.0 461.85,259.5 461.95,272.5 462.10,263.7 462.40,270.5 462.70,257.7 463.00,260.9 463.30,259.9 463.60,259.4 463.85,252.0 463.90,253.0 463.95,260.5 464.20,258.9 464.50,253.7 464.80,254.3 465.10,250.4 465.40,258.1 465.70,246.7 465.95,247.3 466.00,257.5 466.05,257.2 466.30,254.2 466.60,257.5 466.90,258.9 467.20,265.3 467.50,257.8 467.75,258.2 467.80,263.5 467.85,268.2 468.10,260.0 468.40,265.5 468.70,254.1 469.00,257.3 469.30,252.6 469.60,255.2 469.65,245.5 469.75,257.2 469.90,244.9 470.20,248.0 470.50,244.6 470.80,247.7 471.10,242.5 471.25,237.9 471.35,251.0 471.40,252.3 471.70,242.3 472.00,257.2 472.30,247.1 472.60,260.7 472.85,252.0 472.90,254.2 472.95,263.5 473.20,263.6 473.50,256.4 473.80,262.1 474.10,255.9 474.35,258.2 474.40,271.7 474.45,271.4 474.70,261.8 475.00,261.9 475.30,252.9 475.60,258.5 475.90,248.3 475.95,244.1 476.05,255.5 476.20,254.2 476.50,248.3 476.80,247.1 477.10,241.9 477.40,251.2 477.70,244.3 477.95,237.9 478.00,246.9 478.05,247.8 478.30,241.8 478.60,243.3 478.90,243.5 479.20,243.9 479.50,241.8 479.55,239.5 479.65,249.5 479.80,245.0 480.10,243.3 480.40,250.5 480.70,245.4 481.00,251.4 481.15,245.5 481.25,252.5 481.30,247.4 481.60,244.2 481.90,236.4 482.20,241.3 482.50,230.6 482.65,226.9 482.75,235.3 482.80,233.5 483.10,231.7 483.40,230.1 483.70,231.4 484.00,231.1 484.25,226.9 484.30,229.4 484.35,233.7 484.60,232.0 484.90,224.3 485.20,230.6 485.50,223.8 485.80,225.9 485.85,217.5 485.95,225.9 486.10,217.9 486.40,228.1 486.70,223.0 487.00,228.9 487.30,224.5 487.45,226.9 487.55,235.3 487.60,235.9 487.90,234.9 488.20,237.0 488.45,236.3 488.50,238.5 488.55,243.1 488.80,240.1 489.10,233.6 489.40,235.8 489.70,234.3 490.00,235.6 490.30,228.0 490.55,226.9 490.60,235.2 490.65,235.3 490.90,226.3 491.20,230.9 491.50,220.7 491.80,226.9 492.10,219.7 492.15,217.5 492.25,225.9 492.40,225.1 492.70,217.8 493.00,224.0 493.30,216.6 493.60,221.1 493.65,214.3 493.75,224.3 493.90,217.4 494.20,225.3 494.50,221.4 494.80,224.7 495.10,221.1 495.40,225.1 495.70,224.8 495.75,222.2 495.85,229.0 496.00,226.0 496.30,226.8 496.60,228.6 496.90,227.8 497.20,233.1 497.50,229.3 497.55,226.9 497.65,233.7 497.80,233.0 498.10,225.5 498.40,232.2 498.70,224.4 499.00,231.3 499.30,224.2 499.60,225.0 499.90,223.2 499.95,219.0 500.05,227.5 500.20,227.3 500.50,220.2 500.80,220.4 501.10,213.7 501.40,223.0 501.70,213.1 501.95,211.2 502.00,219.0 502.05,221.2 502.30,211.6 502.60,218.7 502.90,213.7 503.20,218.3 503.50,215.6 503.80,218.5 503.85,214.3 503.95,221.2 504.10,214.3 504.40,218.3 504.70,216.8 505.00,218.0 505.30,212.3 505.60,216.3 505.75,212.8 505.85,221.2 505.90,215.1 506.20,220.1 506.50,213.2 506.80,217.5 507.10,212.8 507.40,218.3 507.70,210.1 507.75,209.5 507.85,218.0 508.00,216.4 508.30,212.4 508.60,214.4 508.85,208.0 508.90,206.9 508.95,214.9 509.20,216.2 509.50,212.9 509.80,223.7 510.10,222.4 510.15,219.0 510.25,225.9 510.40,225.9 510.70,221.8 511.00,226.8 511.30,220.3 511.60,224.9 511.90,226.5 512.20,230.1 512.45,223.7 512.50,224.8 512.55,230.5 512.80,229.7 513.10,223.3 513.40,228.1 513.70,226.8 514.00,227.5 514.30,226.2 514.60,231.7 514.85,223.7 514.90,223.7 514.95,230.5 515.20,229.9 515.50,228.4 515.80,232.6 516.10,228.9 516.40,232.1 516.70,228.5 516.75,230.0 516.85,236.9 517.00,237.3 517.30,232.0 517.60,235.1 517.90,233.5 518.20,242.3 518.50,236.5 518.75,236.5 518.80,240.8 518.85,243.1 519.10,236.9 519.40,241.9 519.70,238.8 520.00,245.0 520.30,240.3 520.55,241.2 520.60,245.8 520.65,251.2 520.90,243.0 521.20,250.3 521.50,251.2 521.80,257.5 522.10,248.5 522.40,258.2 522.70,255.0 522.95,253.7 523.00,262.5 523.05,265.3 523.30,260.6 523.60,265.5 523.90,261.7 524.20,268.2 524.45,263.1 524.50,264.8 524.55,271.5 524.80,272.1 525.10,264.4 525.40,277.0 525.70,267.1 526.00,281.7 526.05,266.3 526.15,284.1 526.30,274.1 526.60,281.7 526.90,267.0 527.20,275.3 527.50,267.5 527.65,266.3 527.75,276.3 527.80,276.5 528.10,270.3 528.40,278.4 528.70,276.4 529.00,278.4 529.25,275.7 529.30,281.6 529.35,287.2 529.60,285.5 529.90,279.5 530.20,286.9 530.50,278.9 530.75,278.8 530.80,283.6 530.85,290.4 531.10,278.9 531.40,290.8 531.70,285.0 532.00,288.8 532.30,283.5 532.60,287.4 532.90,285.8 533.15,285.1 533.20,290.9 533.25,293.5 533.50,285.7 533.80,291.4 534.10,288.3 534.40,297.2 534.65,291.4 534.70,295.9 534.75,299.8 535.00,296.6 535.30,299.6 535.60,300.8 535.90,297.8 536.20,310.9 536.25,299.2 536.35,310.5 536.50,304.0 536.80,318.1 537.10,316.0 537.40,326.8 537.45,312.3 537.55,327.0 537.70,317.0 538.00,334.2 538.30,320.8 538.60,339.8 538.75,328.0 538.85,348.5 538.90,328.4 539.20,339.8 539.50,340.7 539.80,350.6 540.10,346.5 540.15,337.5 540.25,356.5 540.40,347.1 540.70,340.4 541.00,345.4 541.30,345.8 541.60,346.0 541.75,339.5 541.85,348.5 541.90,341.1 542.20,345.6 542.50,348.6 542.80,353.4 543.10,344.2 543.25,345.5 543.35,358.3 543.40,353.2 543.70,356.3 544.00,371.8 544.30,363.5 544.60,382.7 544.65,359.3 544.75,389.5 544.90,375.5 545.20,381.9 545.50,362.0 545.80,383.8 546.10,364.2 546.40,368.3 546.65,361.3 546.70,362.5 546.75,377.9 547.00,375.1 547.30,373.4 547.60,382.9 547.90,367.3 548.20,375.2 548.50,366.8 548.55,367.2 548.65,385.8 548.80,373.3 549.10,371.6 549.40,376.8 549.70,362.9 550.00,365.8 550.30,358.3 550.55,349.5 550.60,362.3 550.65,364.2 550.90,350.0 551.20,358.1 551.50,344.6 551.80,353.8 551.95,339.5 552.05,352.5 552.10,347.7 552.40,349.7 552.70,348.5 553.00,358.0 553.30,355.8 553.45,353.5 553.55,370.1 553.60,367.5 553.90,353.8 554.20,355.8 554.50,350.0 554.80,356.3 555.10,352.8 555.40,355.3 555.45,341.5 555.55,356.5 555.70,349.4 556.00,358.1 556.30,350.7 556.60,353.0 556.90,353.8 557.20,353.5 557.45,349.5 557.50,354.7 557.55,362.2 557.80,355.5 558.10,353.0 558.40,361.2 558.70,354.8 559.00,366.0 559.30,358.7 559.35,357.4 559.45,366.2 559.60,362.7 559.90,361.6 560.20,368.9 560.50,363.3 560.80,367.9 561.10,357.3 561.35,355.5 561.40,362.8 561.45,370.1 561.70,359.4 562.00,355.9 562.30,344.4 562.60,351.6 562.90,342.6 563.20,345.6 563.25,326.0 563.35,348.5 563.50,337.8 563.80,340.4 564.10,336.3 564.40,341.8 564.70,338.7 565.00,346.5 565.25,339.5 565.30,345.0 565.35,354.5 565.60,352.4 565.90,344.6 566.20,350.1 566.50,345.5 566.80,354.8 567.10,350.1 567.25,343.5 567.35,354.5 567.40,347.6 567.70,341.3 568.00,346.2 568.30,343.7 568.60,351.9 568.90,344.7 569.15,337.5 569.20,347.7 569.25,350.5 569.50,345.6 569.80,349.7 570.10,349.2 570.40,364.1 570.70,357.9 571.00,362.6 571.15,353.5 571.25,372.0 571.30,364.4 571.60,372.2 571.90,366.9 572.20,369.0 572.50,366.5 572.80,377.6 573.05,369.1 573.10,370.9 573.15,381.9 573.40,383.7 573.70,371.6 574.00,382.1 574.30,372.3 574.60,379.7 574.90,376.6 575.05,375.0 575.15,385.8 575.20,381.9 575.50,373.3 575.80,379.9 576.10,373.3 576.40,375.3 576.70,368.1 577.00,372.0 577.05,361.3 577.15,374.0 577.30,365.2 577.60,367.3 577.90,363.0 578.20,370.8 578.50,367.0 578.80,374.6 579.10,369.5 579.35,363.2 579.40,371.3 579.45,374.0 579.70,364.2 580.00,369.8 580.30,369.4 580.60,371.4 580.90,370.8 581.20,376.4 581.35,365.2 581.45,376.0 581.50,367.1 581.80,367.2 582.10,364.1 582.40,362.0 582.70,354.9 583.00,358.5 583.25,343.5 583.30,348.2 583.35,358.3 583.60,355.4 583.90,354.8 584.20,355.7 584.50,356.3 584.80,358.0 585.10,353.0 585.40,362.7 585.70,360.1 585.85,358.1 585.95,371.3 586.00,364.7 586.30,356.7 586.60,363.1 586.90,357.4 587.20,362.8 587.50,348.0 587.55,345.8 587.65,358.9 587.80,355.1 588.10,351.2 588.40,355.4 588.70,349.4 589.00,354.0 589.30,343.4 589.60,349.6 589.90,344.9 589.95,340.5 590.05,351.9 590.20,346.0 590.50,347.1 590.80,351.3 591.10,346.7 591.40,349.0 591.65,344.0 591.70,345.1 591.75,351.9 592.00,345.9 592.30,343.6 592.60,343.7 592.85,331.5 592.90,338.9 592.95,344.8 593.20,346.7 593.50,336.4 593.80,345.0 594.10,342.2 594.40,350.5 594.65,345.8 594.70,348.2 594.75,355.5 595.00,356.0 595.30,351.3 595.60,353.0 595.90,348.9 596.20,356.7 596.45,351.1 596.50,353.9 596.55,357.1 596.80,352.6 597.10,352.1 597.40,353.1 597.70,346.3 598.00,351.7 598.15,342.3 598.25,353.5 598.30,343.3 598.60,354.4 598.90,348.8 599.20,362.9 599.45,352.9 599.50,355.2 599.55,366.0 599.80,366.5 600.10,355.9 600.40,360.3 600.70,357.4 601.00,357.6 601.30,359.2 601.60,360.3 601.75,352.9 601.85,364.2 601.90,358.8 602.20,360.7 602.50,356.4 602.80,360.2 603.10,352.8 603.40,353.3 603.45,349.3 603.55,358.9 603.70,351.9 604.00,355.3 604.30,351.9 604.60,355.3 604.90,350.8 605.20,356.1 605.50,345.1 605.75,344.0 605.80,353.5 605.85,353.5 606.10,345.3 606.40,349.2 606.70,345.1 607.00,354.9 607.30,350.2 607.60,353.4 607.85,349.3 607.90,352.8 607.95,357.1 608.20,355.9 608.50,349.3 608.80,352.8 609.10,348.7 609.40,357.1 609.70,349.3 610.00,354.4 610.30,353.0 610.55,349.3 610.60,352.9 610.65,355.4 610.90,352.6 611.20,357.7 611.50,356.7 611.80,360.8 612.10,357.7 612.35,358.1 612.40,368.3 612.45,367.7 612.70,356.7 613.00,361.9 613.30,358.3 613.60,360.2 613.90,348.1 614.05,347.5 614.15,369.5 614.20,358.6 614.50,356.6 614.80,364.8 615.10,366.3 615.40,375.9 615.70,375.6 615.85,370.5 615.95,385.4 616.00,380.3 616.30,377.2 616.60,385.9 616.90,377.9 617.20,384.8 617.50,374.8 617.55,375.8 617.65,387.1 617.80,388.0 618.10,379.8 618.40,389.1 618.70,384.0 619.00,392.7 619.30,377.9 619.35,379.3 619.45,394.2 619.60,385.2 619.90,381.8 620.20,390.9 620.50,381.3 620.80,394.7 621.10,383.9 621.15,381.1 621.25,396.0 621.40,388.3 621.70,379.1 622.00,385.6 622.30,385.8 622.60,385.6 622.85,377.5 622.90,378.8 622.95,387.1 623.20,386.1 623.50,376.4 623.80,384.2 624.10,380.1 624.40,385.4 624.65,374.0 624.70,378.4 624.75,383.5 625.00,380.5 625.30,374.4 625.60,385.5 625.90,380.5 626.20,382.7 626.50,379.3 626.80,382.8 627.10,380.1 627.35,381.1 627.40,386.2 627.45,387.1 627.70,379.2 628.00,383.3 628.30,376.6 628.60,384.7 628.90,378.9 629.05,374.0 629.15,383.5 629.20,380.9 629.50,376.3 629.80,377.4 630.10,374.2 630.40,379.6 630.70,373.1 630.85,368.7 630.95,378.3 631.00,379.0 631.30,370.9 631.60,378.2 631.90,372.3 632.20,381.7 632.50,377.6 632.55,375.8 632.65,381.9 632.80,378.3 633.10,373.6 633.40,377.0 633.70,369.2 634.00,373.1 634.30,368.1 634.35,365.2 634.45,373.0 634.60,367.7 634.90,361.7 635.20,365.4 635.50,366.0 635.80,367.5 636.10,361.6 636.15,356.4 636.25,367.7 636.40,360.9 636.70,357.5 637.00,361.1 637.30,353.7 637.60,353.1 637.85,347.5 637.90,346.9 637.95,355.5 638.20,353.8 638.50,346.9 638.80,351.8 639.10,351.7 639.40,356.5 639.70,351.8 639.95,349.3 640.00,353.1 640.05,355.5 640.30,347.2 640.60,351.5 640.90,347.6 641.20,350.0 641.50,343.7 641.75,340.5 641.80,343.5 641.85,348.3 642.10,341.4 642.40,343.6 642.70,333.5 643.00,343.9 643.30,336.5 643.55,328.1 643.60,335.6 643.65,341.3 643.90,332.4 644.20,332.3 644.50,325.8 644.80,327.9 644.95,319.3 645.05,328.9 645.10,323.0 645.40,326.1 645.70,319.1 645.95,316.0 646.00,322.7 646.05,324.5 646.30,319.4 646.60,324.9 646.90,315.6 647.20,326.2 647.50,317.1 647.75,317.5 647.80,321.6 647.85,326.0 648.10,319.3 648.40,319.1 648.70,314.1 649.00,320.6 649.30,310.9 649.60,311.8 649.65,306.5 649.75,316.5 649.90,309.6 650.20,314.5 650.50,310.4 650.80,320.0 651.10,314.1 651.25,311.3 651.35,321.3 651.40,319.3 651.70,314.7 652.00,323.0 652.30,319.8 652.60,324.7 652.85,320.5 652.90,322.0 652.95,326.0 653.20,325.7 653.50,322.3 653.80,324.6 654.10,320.4 654.35,319.1 654.40,321.3 654.45,324.5 654.70,322.7 655.00,325.3 655.30,323.4 655.60,327.6 655.90,326.3 655.95,325.5 656.05,333.8 656.20,327.8 656.50,327.8 656.80,327.2 657.10,324.8 657.40,325.1 657.55,319.1 657.65,326.0 657.70,321.7 658.00,325.3 658.30,321.3 658.60,319.6 658.90,314.6 659.05,314.5 659.15,321.3 659.20,321.2 659.50,316.6 659.80,318.5 660.10,314.7 660.40,317.7 660.70,316.1 661.00,317.8 661.15,316.0 661.25,321.3 661.30,317.8 661.60,318.6 661.90,313.4 662.20,317.9 662.50,309.5 662.65,309.5 662.75,315.0 662.80,312.6 663.10,309.4 663.40,307.4 663.70,302.9 664.00,303.3 664.25,297.2 664.30,298.1 664.35,307.1 664.60,299.0 664.90,298.0 665.20,300.1 665.50,292.9 665.80,291.3 665.85,284.5 665.95,294.5 666.10,288.6 666.40,289.7 666.70,287.2 667.00,293.1 667.30,285.5 667.45,283.0 667.55,297.5 667.60,290.2 667.90,292.2 668.20,298.9 668.50,292.9 668.80,299.3 668.95,289.3 669.05,300.9 669.10,289.4 669.40,299.4 669.70,291.7 670.00,297.2 670.30,288.3 670.55,287.5 670.60,296.8 670.65,296.2 670.90,288.4 671.20,292.3 671.50,286.3 671.80,294.2 672.10,290.3 672.15,287.5 672.25,296.2 672.40,297.3 672.70,288.8 673.00,292.2 673.30,294.0 673.60,293.2 673.65,289.3 673.75,297.5 673.90,289.3 674.20,294.4 674.50,291.7 674.80,298.9 675.10,292.6 675.25,290.9 675.35,299.3 675.40,295.1 675.70,297.7 676.00,302.5 676.30,294.8 676.60,302.1 676.85,298.5 676.90,305.7 676.95,310.3 677.20,309.5 677.50,304.2 677.80,313.9 678.10,312.9 678.35,311.3 678.40,319.0 678.45,321.3 678.70,314.0 679.00,324.6 679.30,316.2 679.60,330.3 679.90,318.4 679.95,317.5 680.05,332.2 680.20,324.2 680.50,318.5 680.80,328.1 681.05,322.3 681.10,327.7 681.15,333.8 681.40,330.4 681.70,324.0 682.00,329.2 682.30,322.6 682.35,319.1 682.45,327.5 682.60,324.7 682.90,324.0 683.20,327.6 683.50,327.1 683.80,326.7 684.10,326.0 684.15,323.8 684.25,332.2 684.40,328.8 684.70,324.2 685.00,326.6 685.30,325.9 685.60,326.3 685.75,323.8 685.85,329.1 685.90,324.1 686.20,326.6 686.50,324.2 686.80,330.5 687.10,325.2 687.40,334.3 687.70,330.5 687.75,327.0 687.85,335.4 688.00,337.4 688.30,329.3 688.60,339.7 688.90,335.1 689.20,344.0 689.35,328.5 689.45,344.8 689.50,330.8 689.80,334.9 690.10,332.6 690.40,333.8 690.70,332.6 690.95,327.0 691.00,335.0 691.05,333.8 691.30,329.1 691.60,330.3 691.90,329.0 692.20,329.8 692.45,325.5 692.50,324.6 692.55,332.2 692.80,332.1 693.10,326.7 693.40,327.4 693.70,322.0 694.00,329.0 694.05,320.5 694.15,327.5 694.30,323.5 694.60,331.7 694.90,328.7 695.20,334.3 695.50,333.0 695.75,330.9 695.80,340.0 695.85,339.3 696.10,333.8 696.40,342.2 696.70,337.8 697.00,341.2 697.30,335.7 697.35,335.5 697.45,345.5 697.60,340.1 697.90,340.8 698.20,346.3 698.50,343.7 698.80,347.5 699.10,346.0 699.35,341.9 699.40,349.6 699.45,350.3 699.70,346.7 700.00,350.2 700.30,344.4 700.60,347.8 700.90,341.8 701.20,344.9 701.25,340.3 701.35,347.1 701.50,339.1 701.80,346.8 702.10,339.0 702.40,343.5 702.70,339.3 703.00,344.4 703.30,339.5 703.55,338.7 703.60,345.5 703.65,345.5 703.90,342.2 704.20,343.1 704.50,339.6 704.80,341.0 705.10,339.6 705.40,342.9 705.70,333.8 705.95,334.0 706.00,340.7 706.05,342.5 706.30,334.5 706.60,344.6 706.90,340.6 707.20,341.9 707.50,338.8 707.80,345.9 707.85,338.7 707.95,345.5 708.10,342.0 708.40,344.6 708.70,339.7 709.00,343.0 709.30,345.0 709.60,344.3 709.85,341.9 709.90,345.3 709.95,348.7 710.20,347.2 710.50,342.8 710.80,347.0 711.10,342.4 711.40,347.7 711.70,342.4 711.85,343.5 711.95,350.3 712.00,351.6 712.30,346.0 712.60,349.9 712.90,345.6 713.20,346.8 713.50,346.3 713.80,348.0 714.05,340.3 714.10,346.2 714.15,351.9 714.40,348.1 714.70,347.9 715.00,347.3 715.30,342.8 715.60,352.6 715.90,346.7 716.15,346.5 716.20,353.3 716.25,353.5 716.50,346.5 716.80,350.2 717.10,346.1 717.40,354.7 717.70,350.7 718.00,354.9 718.15,348.1 718.25,355.0 718.30,348.4 718.60,351.1 718.90,351.7 719.20,354.5 719.50,348.7 719.80,356.0 720.05,349.7 720.10,353.9 720.15,356.5 720.40,353.1 720.70,348.3 721.00,353.1 721.30,349.5 721.60,352.5 721.90,348.6 721.95,348.1 722.05,355.0 722.20,355.1 722.50,345.8 722.80,352.7 723.10,349.1 723.40,348.0 723.70,346.7 723.95,343.5 724.00,347.4 724.05,350.3 724.30,343.0 724.60,349.0 724.90,346.4 725.20,344.8 725.50,343.2 725.55,341.9 725.65,348.7 725.80,346.2 726.10,347.2 726.40,346.5 726.70,345.2 727.00,350.1 727.30,347.4 727.60,352.8 727.85,348.1 727.90,349.4 727.95,355.0 728.20,355.3 728.50,348.1 728.80,353.7 729.10,353.1 729.40,354.5 729.70,351.3 730.00,359.1 730.25,352.9 730.30,355.0 730.35,359.7 730.60,356.3 730.90,355.5 731.20,361.7 731.50,357.4 731.80,358.6 732.10,360.1 732.40,360.2 732.55,357.5 732.65,364.4 732.70,358.7 733.00,364.7 733.30,362.1 733.60,362.5 733.90,362.8 734.20,365.6 734.50,360.4 734.80,367.2 734.95,360.7 735.05,367.5 735.10,364.4 735.40,363.8 735.70,362.0 736.00,364.4 736.30,362.6 736.55,362.3 736.60,366.7 736.65,367.5 736.90,362.7 737.20,366.1 737.50,359.3 737.80,364.2 738.10,357.3 738.40,361.1 738.70,354.4 738.85,354.5 738.95,361.3 739.00,358.2 739.30,354.2 739.60,359.7 739.90,356.5 740.20,360.8 740.50,355.2 740.75,354.5 740.80,358.4 740.85,359.7 741.10,356.2 741.40,357.7 741.70,358.2 742.00,362.3 742.30,359.4 742.60,361.2 742.75,357.5 742.85,362.8 742.90,359.2 743.20,362.4 743.50,356.9 743.80,358.6 744.10,357.1 744.40,356.7 744.70,353.1 744.85,352.9 744.95,358.1 745.00,355.4 745.30,353.9 745.60,355.7 745.90,354.7 746.20,356.4 746.50,354.6 746.75,351.3 746.80,353.7 746.85,356.5 747.10,354.4 747.40,357.3 747.70,354.3 748.00,359.5 748.30,356.6 748.60,357.3 748.90,355.1 749.05,356.0 749.15,361.3 749.20,359.4 749.50,359.1 749.80,364.7 750.10,362.0 750.40,364.3 750.70,360.3 751.00,368.6 751.30,364.8 751.45,362.3 751.55,369.1 751.60,368.8 751.90,365.4 752.20,371.6 752.50,368.2 752.80,372.5 752.95,368.5 753.05,373.8 753.10,369.7 753.40,367.1 753.70,360.9 754.00,364.5 754.30,343.8 754.55,338.7 754.60,349.3 754.65,361.3 754.90,354.9 755.20,359.6 755.50,361.3 755.80,365.2 756.10,362.5 756.15,354.5 756.25,380.5 756.40,374.3 756.70,360.2 757.00,372.3 757.30,359.5 757.60,372.2 757.90,363.9 757.95,360.0 758.05,374.7 758.20,375.7 758.50,363.6 758.80,373.3 759.10,366.7 759.40,369.0 759.70,367.3 759.85,363.9 759.95,374.7 760.00,370.6 760.30,367.1 760.60,373.2 760.90,364.7 761.20,367.9 761.50,368.6 761.80,372.7 761.85,362.0 761.95,372.7 762.10,360.6 762.40,365.8 762.70,366.7 763.00,368.0 763.30,365.8 763.60,367.5 763.75,360.0 763.85,370.8 763.90,365.1 764.20,366.9 764.50,356.3 764.80,358.5 765.10,349.2 765.40,353.1 765.70,344.4 765.75,342.4 765.85,355.1 766.00,349.8 766.30,348.5 766.60,352.1 766.90,349.9 767.20,350.2 767.50,348.2 767.65,344.3 767.75,353.1 767.80,354.1 768.10,342.3 768.40,347.6 768.70,346.7 769.00,346.6 769.30,344.7 769.60,350.2 769.65,336.5 769.75,349.2 769.90,341.4 770.20,337.5 770.50,332.9 770.80,336.3 771.10,327.7 771.40,332.7 771.65,314.9 771.70,321.3 771.75,331.5 772.00,324.1 772.30,319.0 772.60,326.7 772.90,313.6 773.20,325.1 773.50,319.5 773.55,314.9 773.65,323.7 773.80,323.2 774.10,313.6 774.40,321.9 774.70,315.8 775.00,318.8 775.30,317.1 775.55,313.0 775.60,316.3 775.65,319.8 775.90,318.1 776.20,318.0 776.50,317.0 776.80,324.0 777.10,321.7 777.40,325.4 777.45,318.8 777.55,325.7 777.70,321.4 778.00,326.5 778.30,323.7 778.60,328.0 778.90,322.7 779.20,329.1 779.45,322.8 779.50,326.4 779.55,329.6 779.80,327.0 780.10,324.1 780.40,328.1 780.70,320.2 781.00,323.8 781.30,323.0 781.45,318.8 781.55,327.6 781.60,323.7 781.90,323.7 782.20,323.9 782.50,317.6 782.80,322.6 783.10,317.6 783.35,316.9 783.40,322.1 783.45,323.7 783.70,316.8 784.00,319.3 784.30,316.9 784.60,315.2 784.90,311.0 785.20,312.5 785.35,307.1 785.45,315.9 785.50,311.3 785.80,310.5 786.10,307.0 786.40,307.6 786.70,304.4 787.00,311.7 787.30,300.5 787.35,299.2 787.45,310.0 787.60,305.5 787.90,299.8 788.20,305.6 788.50,298.6 788.80,305.6 789.10,295.1 789.25,295.3 789.35,304.1 789.40,305.2 789.70,299.0 790.00,303.9 790.30,298.1 790.60,300.3 790.90,299.9 791.20,301.8 791.25,297.3 791.35,306.1 791.50,301.5 791.80,301.7 792.10,298.1 792.40,306.1 792.70,304.5 793.00,306.4 793.15,301.2 793.25,308.0 793.30,305.3 793.60,308.6 793.90,300.3 794.20,304.7 794.50,302.5 794.80,307.5 795.10,306.2 795.15,301.2 795.25,310.0 795.40,310.6 795.70,308.7 796.00,311.9 796.30,306.8 796.60,315.4 796.90,311.2 797.15,311.0 797.20,316.5 797.25,317.8 797.50,315.8 797.80,320.7 798.10,313.5 798.40,322.1 798.70,318.6 799.00,321.0 799.30,320.2 799.60,323.9 799.65,320.8 799.75,325.7 799.90,321.5 800.20,324.9 800.50,316.8 800.80,317.5 801.10,314.3 801.40,315.0 801.70,312.4 802.00,316.4 802.05,309.0 802.15,315.9 802.30,307.3 802.60,314.9 802.90,307.9 803.20,312.4 803.50,307.4 803.80,310.6 803.95,305.1 804.05,312.0 804.10,306.2 804.40,311.8 804.70,303.0 805.00,304.5 805.30,299.7 805.60,303.9 805.90,300.3 806.20,302.1 806.35,297.3 806.45,304.1 806.50,298.1 806.80,304.5 807.10,300.6 807.40,302.8 807.70,300.8 808.00,309.8 808.25,301.2 808.30,300.2 808.35,310.0 808.60,306.6 808.90,304.9 809.20,314.1 809.50,309.4 809.80,312.1 810.10,312.2 810.25,311.0 810.35,317.8 810.40,318.5 810.70,313.2 811.00,319.3 811.30,312.9 811.60,317.3 811.90,316.9 812.15,317.0 812.20,322.8 812.25,322.1 812.50,320.2 812.80,319.7 813.10,320.8 813.40,324.4 813.70,318.2 814.00,324.0 814.25,319.0 814.30,321.2 814.35,326.3 814.60,322.7 814.90,324.1 815.20,323.1 815.50,321.0 815.80,325.6 816.10,320.3 816.25,321.1 816.35,328.3 816.40,326.4 816.70,319.5 817.00,328.2 817.30,318.6 817.60,326.4 817.90,318.8 818.20,322.8 818.35,317.0 818.45,326.3 818.50,316.5 818.80,328.0 819.10,322.5 819.40,325.9 819.70,324.8 820.00,327.4 820.30,326.3 820.35,323.1 820.45,332.5 820.60,330.1 820.90,327.9 821.20,334.0 821.50,325.4 821.80,330.4 822.10,326.4 822.40,332.6 822.45,327.3 822.55,334.5 822.70,327.8 823.00,334.1 823.30,332.0 823.60,333.6 823.90,330.3 824.20,337.2 824.50,333.6 824.55,329.3 824.65,338.5 824.80,336.2 825.10,333.4 825.40,337.7 825.70,338.4 826.00,339.8 826.30,341.1 826.55,337.5 826.60,343.6 826.65,351.0 826.90,342.1 827.20,346.2 827.50,345.7 827.80,351.6 828.10,343.9 828.40,348.4 828.65,343.7 828.70,342.7 828.75,351.0 829.00,347.4 829.30,346.4 829.60,346.3 829.90,344.3 830.20,348.4 830.50,346.8 830.65,343.7 830.75,348.9 830.80,348.3 831.10,346.1 831.40,348.1 831.70,343.2 832.00,348.7 832.30,342.1 832.60,347.7 832.75,341.7 832.85,348.9 832.90,341.3 833.20,345.7 833.50,347.0 833.80,352.3 834.10,339.5 834.40,354.9 834.70,348.1 834.85,339.5 834.95,355.1 835.00,355.0 835.30,344.3 835.60,349.5 835.90,338.4 836.20,346.9 836.25,337.5 836.35,346.9 836.50,342.1 836.80,350.5 837.10,346.3 837.40,349.4 837.70,344.7 837.95,345.8 838.00,354.9 838.05,355.1 838.30,350.7 838.60,355.2 838.90,350.8 839.20,361.0 839.50,354.8 839.80,359.0 839.95,354.0 840.05,367.5 840.10,358.0 840.40,361.1 840.70,359.7 841.00,364.0 841.30,359.2 841.60,363.5 841.90,360.1 842.05,358.1 842.15,367.5 842.20,364.0 842.50,359.8 842.80,369.9 843.10,367.7 843.40,372.3 843.70,370.3 844.00,370.7 844.05,366.4 844.15,377.7 844.30,371.4 844.60,382.0 844.90,377.3 845.20,381.7 845.50,377.4 845.80,384.3 846.10,383.4 846.15,380.8 846.25,394.2 846.40,394.5 846.70,379.6 847.00,391.8 847.30,383.8 847.60,385.5 847.90,378.6 848.15,378.7 848.20,391.2 848.25,390.1 848.50,381.9 848.80,386.5 849.10,378.9 849.40,381.6 849.70,381.5 849.85,374.5 849.95,386.0 850.00,379.5 850.30,381.5 850.60,390.1 850.90,378.7 851.20,387.7 851.50,387.9 851.80,394.4 851.85,382.9 851.95,394.2 852.10,386.8 852.40,393.9 852.70,388.8 853.00,396.8 853.30,390.9 853.35,391.1 853.45,398.3"/>
<text transform="translate(820.5,521.9) scale(1.12,1)" font-size="18" fill="#111">Bloomberg Terminal</text>
</svg>
</body></html>
